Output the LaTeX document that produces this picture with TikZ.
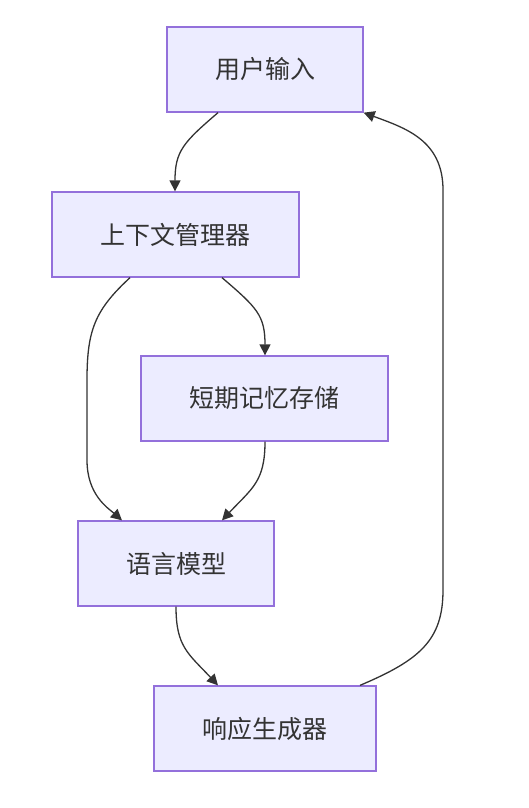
\documentclass[tikz,border=0pt]{standalone}
\usepackage{fontspec}
\setmainfont{Noto Sans CJK SC}
\usetikzlibrary{arrows.meta}
\definecolor{boxfill}{HTML}{ECECFF}
\definecolor{boxline}{HTML}{9370DB}
\definecolor{edge}{HTML}{333333}
\begin{document}
\begin{tikzpicture}[x=1pt,y=-1pt,
  box/.style={draw=boxline,fill=boxfill,line width=1.3pt,inner sep=0pt,
    minimum height=85pt,font=\fontsize{25}{30}\selectfont,text=edge},
  conn/.style={draw=edge,line width=1.3pt,-{Triangle[length=11pt,width=11pt]}}]
\useasboundingbox (0,0) rectangle (528,808);
\node[box,minimum width=196pt] (u) at (265,69.5) {用户输入};
\node[box,minimum width=247pt] (c) at (175.5,234.5) {上下文管理器};
\node[box,minimum width=247pt] (s) at (264.5,398.5) {短期记忆存储};
\node[box,minimum width=196pt] (l) at (176,563.5) {语言模型};
\node[box,minimum width=222pt] (r) at (265,728.5) {响应生成器};
\draw[conn] ([xshift=-47pt]u.south) .. controls +(-35,30) and +(0,-40) .. ([xshift=-0.5pt]c.north);
\draw[conn] ([xshift=46.5pt]c.south) .. controls +(35,30) and +(0,-40) .. ([xshift=0.5pt]s.north);
\draw[conn] ([xshift=-45.5pt]c.south) .. controls (95,310) and (87,330) .. (87,380) -- (87,460) .. controls (87,495) and (108,508) .. ([xshift=-54pt]l.north);
\draw[conn] ([xshift=0.5pt]s.south) .. controls +(0,40) and +(30,-32) .. ([xshift=46pt]l.north);
\draw[conn] (l.south) .. controls +(0,40) and +(-30,-32) .. ([xshift=-47pt]r.north);
\draw[conn] ([xshift=95pt]r.north) .. controls (420,660) and (443,640) .. (443,590) -- (443,190) .. controls (443,140) and (405,128) .. (u.south east);
\end{tikzpicture}
\end{document}
